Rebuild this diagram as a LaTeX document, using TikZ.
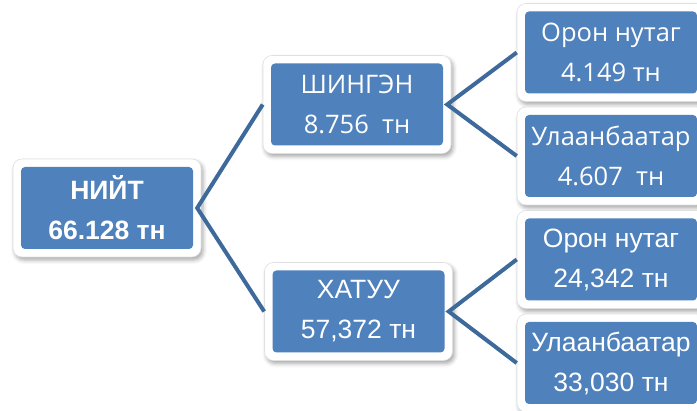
\documentclass[tikz,border=0pt]{standalone}
\usepackage{fontspec}
\setmainfont{Liberation Sans}
\newfontfamily\osans{Open Sans}
\usetikzlibrary{shadows.blur,calc}
\definecolor{boxblue}{HTML}{4F81BD}
\definecolor{linkblue}{HTML}{3E6A9B}
\begin{document}
\begin{tikzpicture}[x=1pt,y=-1pt,
  rim/.style={fill=white, draw=black!12, line width=0.6pt, rounded corners=9pt,
    minimum width=188pt, minimum height=98pt, inner sep=0pt,
    blur shadow={shadow xshift=2pt, shadow yshift=-3pt, shadow blur radius=4pt, shadow opacity=35}},
  card/.style={fill=boxblue, rounded corners=4pt, minimum width=172pt, minimum height=82pt,
    inner sep=0pt, text=white, align=center},
  arial/.style={font=\fontsize{26.5}{40}\selectfont},
  arialb/.style={font=\fontsize{26.5}{40}\selectfont\bfseries},
  segoe/.style={font=\osans\fontsize{25.5}{40}\selectfont},
  link/.style={draw=linkblue, line width=4pt, line join=miter}]
\useasboundingbox (0,0) rectangle (697,411);
\clip (0,0) rectangle (697,411);
% rims
\node[rim] (ro) at (107,208) {};
\node[rim] (so) at (357,104.5) {};
\node[rim] (ho) at (358.5,311.5) {};
\node[rim] (s1o) at (611,52.5) {};
\node[rim] (s2o) at (611,156) {};
\node[rim] (h1o) at (611,259.5) {};
\node[rim] (h2o) at (611,363) {};
% cards
\node[card,arialb] (r) at (107,208) {НИЙТ\\66.128 тн};
\node[card,segoe] (s) at (357,104.5) {ШИНГЭН\\8.756\ \ тн};
\node[card,arial] (h) at (358.5,311.5) {ХАТУУ\\57,372 тн};
\node[card,segoe] (s1) at (611,52.5) {Орон нутаг\\4.149 тн};
\node[card,segoe] (s2) at (611,156) {Улаанбаатар\\4.607\ \ тн};
\node[card,arial] (h1) at (611,259.5) {Орон нутаг\\24,342 тн};
\node[card,arial] (h2) at (611,363) {Улаанбаатар\\33,030 тн};
% links
\draw[link] (so.west) -- ($(r.east)+(4,0)$) -- (ho.west);
\draw[link] (s1o.west) -- ($(s.east)+(4,0)$) -- (s2o.west);
\draw[link] (h1o.west) -- ($(h.east)+(4,0)$) -- (h2o.west);
\end{tikzpicture}
\end{document}
